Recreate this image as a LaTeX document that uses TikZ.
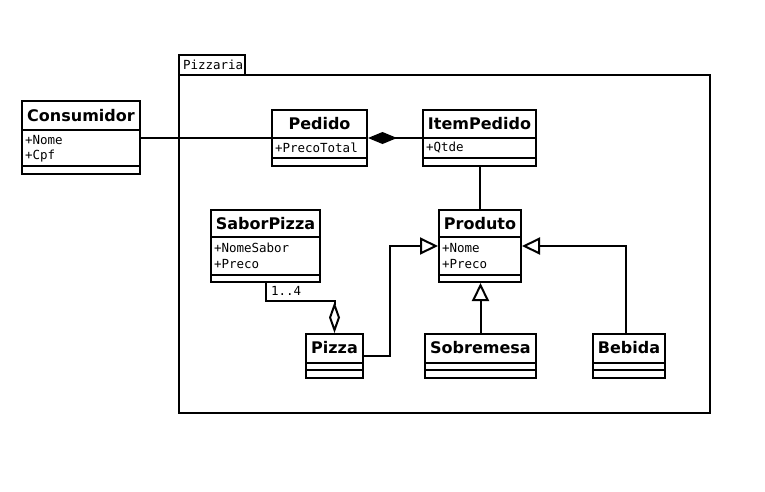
\documentclass[tikz,border=0pt]{standalone}
\usepackage{fontspec}
\setmainfont{DejaVu Sans}
\newfontfamily\attrfamily{DejaVu Sans Mono}
\usetikzlibrary{arrows.meta}
\newcommand{\clsname}{\fontsize{16}{19}\selectfont\bfseries}
\newcommand{\attrtext}{\fontsize{12.5}{16}\selectfont\attrfamily}

\begin{document}
\begin{tikzpicture}[x=1pt,y=-1pt,line width=2pt,
   umlbox/.style={draw,inner sep=0pt},
   cname/.style={inner sep=0pt,font=\clsname},
   attr/.style={anchor=west,inner sep=0pt,font=\attrtext},
   compo/.style={-{Diamond[length=29pt,width=12pt]}},
   aggre/.style={-{Diamond[open,length=31pt,width=11pt]}},
   gener/.style={-{Triangle[open,length=18pt,width=17pt]}}]
   \useasboundingbox (0,0) rectangle (765,491);
 %
   \draw (179, 55) rectangle (245, 75);
   \draw (179, 75) rectangle (710,413);
   \node[attr] (pizzaria) at (182, 65) {Pizzaria};
 %
   \node[umlbox,minimum width=118,minimum height=73] (consumidor) at ( 81,137.5) {};
   \node[umlbox,minimum width= 95,minimum height=56] (pedido)     at (319.5,138) {};
   \node[umlbox,minimum width=113,minimum height=56] (itempedido) at (479.5,138) {};
   \node[umlbox,minimum width=109,minimum height=72] (saborpizza) at (265.5,246) {};
   \node[umlbox,minimum width= 82,minimum height=72] (produto)    at (480,246) {};
   \node[umlbox,minimum width= 57,minimum height=44] (pizza)      at (334.5,356) {};
   \node[umlbox,minimum width=111,minimum height=44] (sobremesa)  at (480.5,356) {};
   \node[umlbox,minimum width= 72,minimum height=44] (bebida)     at (629,356) {};
 %
   \node[cname] (consumidorN) at ( 81,115.5) {Consumidor};
   \node[cname] (pedidoN)     at (319.5,124) {Pedido};
   \node[cname] (itempedidoN) at (479.5,124) {ItemPedido};
   \node[cname] (saborpizzaN) at (265.5,224) {SaborPizza};
   \node[cname] (produtoN)    at (480,224) {Produto};
   \node[cname] (pizzaN)      at (334.5,348) {Pizza};
   \node[cname] (sobremesaN)  at (480.5,348) {Sobremesa};
   \node[cname] (bebidaN)     at (629,348) {Bebida};
 %
   \draw (consumidor.west |- 0,130) -- (consumidor.east |- 0,130);
   \draw (consumidor.west |- 0,166) -- (consumidor.east |- 0,166);
   \draw (pedido.west     |- 0,138) -- (pedido.east     |- 0,138);
   \draw (pedido.west     |- 0,158) -- (pedido.east     |- 0,158);
   \draw (itempedido.west |- 0,138) -- (itempedido.east |- 0,138);
   \draw (itempedido.west |- 0,158) -- (itempedido.east |- 0,158);
   \draw (saborpizza.west |- 0,237) -- (saborpizza.east |- 0,237);
   \draw (saborpizza.west |- 0,275) -- (saborpizza.east |- 0,275);
   \draw (produto.west    |- 0,237) -- (produto.east    |- 0,237);
   \draw (produto.west    |- 0,275) -- (produto.east    |- 0,275);
   \draw (pizza.west      |- 0,363) -- (pizza.east      |- 0,363);
   \draw (pizza.west      |- 0,370) -- (pizza.east      |- 0,370);
   \draw (sobremesa.west  |- 0,363) -- (sobremesa.east  |- 0,363);
   \draw (sobremesa.west  |- 0,370) -- (sobremesa.east  |- 0,370);
   \draw (bebida.west     |- 0,363) -- (bebida.east     |- 0,363);
   \draw (bebida.west     |- 0,370) -- (bebida.east     |- 0,370);
 %
   \node[attr] (consumidorA1) at ( 24,140.5) {+Nome};
   \node[attr] (consumidorA2) at ( 24,156.5) {+Cpf};
   \node[attr] (pedidoA1)     at (274,147.5) {+PrecoTotal};
   \node[attr] (itempedidoA1) at (425,147.5) {+Qtde};
   \node[attr] (saborpizzaA1) at (213,248) {+NomeSabor};
   \node[attr] (saborpizzaA2) at (213,264) {+Preco};
   \node[attr] (produtoA1)    at (441,248) {+Nome};
   \node[attr] (produtoA2)    at (441,264) {+Preco};
 %
   \draw (consumidor.east |- pedido.west) -- (pedido.west);
   \draw[compo] (itempedido.west |- pedido.east) -- (pedido.east);
   \draw (itempedido.south) -- (itempedido.south |- produto.north);
   \draw[aggre] (saborpizza.south) -- ++(0,18) -| (pizza.north);
   \node[attr] (mult) at (270,291) {1..4};
   \draw[gener] (pizza.east) -- ++(26,0) |- (produto.west);
   \draw[gener] (sobremesa.north) -- (sobremesa.north |- produto.south);
   \draw[gener] (bebida.north -| 626,0) |- (produto.east);
\end{tikzpicture}
\end{document}
